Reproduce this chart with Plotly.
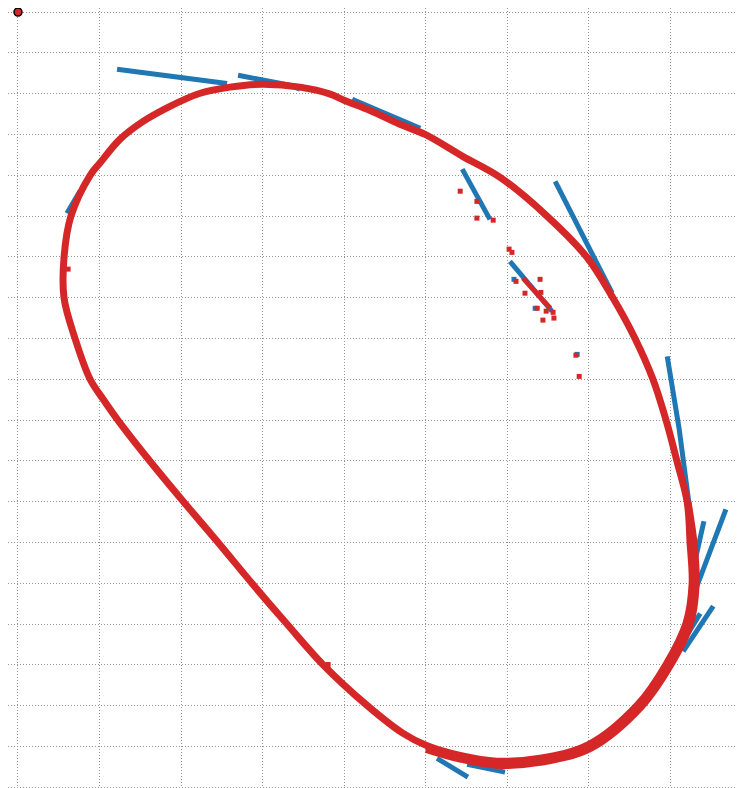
import plotly.graph_objects as go

# Main track loop (red), clockwise from the top-left
loop_x = [44.7, 52.0, 59.9, 69.2, 76.6, 80.0, 86.4, 93.7, 99.9, 109.0, 118.3, 129.8,
          139.6, 146.0, 151.4, 155.8, 159.0, 161.7, 164.2, 164.9, 165.4, 163.9, 159.0, 152.1, 140.1,
          128.1, 117.5, 108.5, 100.1, 94.5, 85.6, 74.8, 66.0, 57.4, 49.1, 40.5, 32.4, 24.5, 20.9,
          17.7, 14.0, 11.3, 11.3, 13.0, 17.7, 20.1, 25.0, 30.7, 37.3, 44.7]
loop_y = [170.1, 171.6, 172.3, 171.6, 169.9, 168.4, 165.9, 162.5, 160.0, 154.7, 149.5,
          140.0, 129.9, 119.9, 110.0, 100.0, 90.0, 79.9, 69.9, 60.0, 49.8, 40.2, 30.1, 20.3, 10.5,
          7.1, 6.4, 7.8, 10.3, 13.2, 20.1, 30.1, 40.0, 50.0, 60.0, 70.1, 79.9, 90.0, 95.1,
          100.0, 110.0, 119.9, 129.9, 140.0, 150.0, 153.0, 158.8, 163.2, 166.9, 170.1]

# Second lap, slightly outside on the bottom-right turn
lap2_x = [164.4, 165.9, 166.4, 164.9, 160.0, 153.1, 140.6, 128.1, 117.5, 108.5, 100.1]
lap2_y = [69.9, 59.6, 49.8, 39.7, 29.7, 19.9, 9.6, 6.1, 5.4, 6.9, 9.3]

# Blue segments
blue_segments = [
    ([24.3, 51.3], [176.0, 172.5]),
    ([54.0, 66.7, 69.2], [174.5, 172.1, 171.1]),
    ([82.0, 98.7], [168.6, 161.5]),
    ([109.0, 115.8], [151.5, 139.2]),
    ([131.8, 145.8], [148.5, 121.1]),
    ([120.7, 131.0], [128.9, 116.7]),
    ([159.3, 162.2, 164.9], [105.6, 88.0, 67.6]),
    ([173.7, 166.1], [68.1, 48.0]),
    ([168.3, 166.1], [65.2, 55.4]),
    ([170.6, 163.2], [44.4, 33.3]),
    ([167.4, 164.4], [42.6, 37.7]),
    ([102.8, 110.4], [7.1, 2.5]),
    ([110.2, 119.5], [5.6, 3.7]),
    ([12.0, 15.2], [140.7, 146.1]),
]
blue_pts_x = [121.7, 126.9, 137.2]
blue_pts_y = [124.5, 117.4, 106.1]

# Red stray points
red_pts_x = [108.5, 112.6, 112.6, 116.6, 120.5, 121.2, 122.2, 128.1, 124.4, 128.3, 127.4, 129.6,
             131.3, 128.8, 131.5, 136.9, 137.7, 76.1, 12.3]
red_pts_y = [146.1, 143.6, 139.5, 139.0, 131.9, 131.1, 124.0, 124.5, 121.1, 121.3, 117.4, 116.7,
             116.4, 114.5, 115.0, 105.9, 100.7, 30.1, 127.0]
red_seg_x = [123.9, 130.6]
red_seg_y = [124.8, 117.4]

start_x = [0.0]
start_y = [190.0]

BLUE = "#1f77b4"
RED = "#d62728"

fig = go.Figure()
for sx, sy in blue_segments:
    fig.add_trace(go.Scatter(x=sx, y=sy, mode="lines", line=dict(color=BLUE, width=5),
                             showlegend=False, hoverinfo="skip"))
fig.add_trace(go.Scatter(x=blue_pts_x, y=blue_pts_y, mode="markers",
                         marker=dict(color=BLUE, size=5, symbol="square"), showlegend=False))
fig.add_trace(go.Scatter(x=loop_x, y=loop_y, mode="lines",
                         line=dict(color=RED, width=7, shape="spline", smoothing=1.0), showlegend=False))
fig.add_trace(go.Scatter(x=lap2_x, y=lap2_y, mode="lines",
                         line=dict(color=RED, width=7, shape="spline", smoothing=1.0), showlegend=False))
fig.add_trace(go.Scatter(x=red_seg_x, y=red_seg_y, mode="lines",
                         line=dict(color=RED, width=5), showlegend=False))
fig.add_trace(go.Scatter(x=red_pts_x, y=red_pts_y, mode="markers",
                         marker=dict(color=RED, size=5, symbol="square"), showlegend=False))
fig.add_trace(go.Scatter(x=start_x, y=start_y, mode="markers",
                         marker=dict(color=RED, size=8, symbol="circle",
                                     line=dict(color="black", width=1.5)),
                         showlegend=False, cliponaxis=False))

axis_common = dict(showgrid=True, gridcolor="#969696", griddash="1px,2px", gridwidth=1,
                   zeroline=False, showticklabels=False, ticks="", showline=False, tick0=0)
fig.update_layout(
    width=744, height=788,
    margin=dict(l=0, r=0, t=0, b=0),
    plot_bgcolor="white", paper_bgcolor="white",
    xaxis=dict(range=[-2.45, 180.1], dtick=20, **axis_common),
    yaxis=dict(range=[-2.14, 191.0], dtick=10, **axis_common),
)
fig.write_html("out.html")
